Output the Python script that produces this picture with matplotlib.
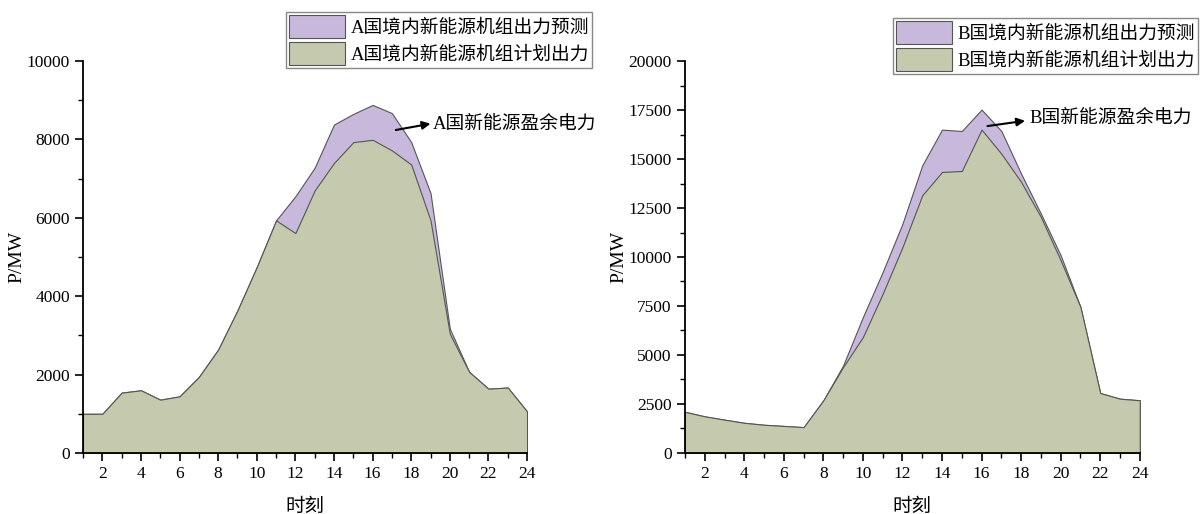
import numpy as np
import matplotlib
matplotlib.use("Agg")
import matplotlib.pyplot as plt
from matplotlib.ticker import MultipleLocator

plt.rcParams['font.family'] = ['Liberation Serif', 'Noto Sans CJK SC']
plt.rcParams['axes.unicode_minus'] = False

hours = list(range(1, 25))

# A country (MW)
a_plan = [1000, 1000, 1540, 1600, 1360, 1445, 1940, 2640, 3640, 4745, 5935, 5610,
          6700, 7400, 7930, 7990, 7720, 7360, 5935, 3040, 2070, 1640, 1670, 1060]
a_forecast = [1000, 1000, 1540, 1600, 1360, 1445, 1940, 2640, 3640, 4745, 5935, 6550,
              7280, 8380, 8650, 8880, 8670, 7930, 6630, 3170, 2070, 1640, 1670, 1060]

# B country (MW)
b_plan = [2100, 1870, 1700, 1540, 1440, 1380, 1320, 2690, 4390, 5920, 8130, 10510,
          13150, 14340, 14390, 16500, 15270, 13830, 12040, 9830, 7450, 3060, 2770, 2690]
b_forecast = [2100, 1870, 1700, 1540, 1440, 1380, 1320, 2690, 4470, 6940, 9240, 11700,
              14680, 16500, 16430, 17520, 16430, 14250, 12210, 10090, 7450, 3060, 2770, 2690]

PURPLE = '#C8B9DC'
GREEN = '#C5C9AD'
EDGE = '#555555'

fig = plt.figure(figsize=(12, 5.14), dpi=100)


def draw_panel(ax, plan, forecast, name, ymax, ymajor, arrow_from, arrow_to, text_xy, legend_anchor):
    ax.fill_between(hours, 0, forecast, color=PURPLE, edgecolor=EDGE, linewidth=0.8,
                    label=f'{name}国境内新能源机组出力预测')
    ax.fill_between(hours, 0, plan, color=GREEN, edgecolor=EDGE, linewidth=0.8,
                    label=f'{name}国境内新能源机组计划出力')
    ax.set_xlim(1, 24)
    ax.set_ylim(0, ymax)
    ax.xaxis.set_major_locator(MultipleLocator(2))
    ax.xaxis.set_minor_locator(MultipleLocator(1))
    ax.yaxis.set_major_locator(MultipleLocator(ymajor))
    ax.yaxis.set_minor_locator(MultipleLocator(ymajor / 2))
    for s in ['top', 'right']:
        ax.spines[s].set_visible(False)
    for s in ['left', 'bottom']:
        ax.spines[s].set_linewidth(1.3)
    ax.tick_params(which='major', direction='out', length=6, width=1.2, labelsize=12.5)
    ax.tick_params(which='minor', direction='out', length=3.5, width=1.0)
    ax.set_xlabel('时刻', fontsize=14, labelpad=12)
    ax.set_ylabel('P/MW', fontsize=14, labelpad=1)

    # surplus arrow + label
    ax.annotate('', xy=arrow_to, xytext=arrow_from,
                arrowprops=dict(arrowstyle='-|>', color='black', lw=1.5,
                                mutation_scale=12, shrinkA=0, shrinkB=0))
    ax.text(text_xy[0], text_xy[1], f'{name}国新能源盈余电力', fontsize=13.5,
            va='center', ha='left')

    ax.legend(loc='upper right', bbox_to_anchor=legend_anchor,
              bbox_transform=fig.transFigure, fontsize=13.5, frameon=True,
              fancybox=False, edgecolor='#888888', framealpha=1,
              handlelength=3.0, handleheight=1.5, handletextpad=0.3,
              borderpad=0.15, labelspacing=0.25, borderaxespad=0)


ax1 = fig.add_axes([0.0692, 0.1187, 0.37, 0.7626])
draw_panel(ax1, a_plan, a_forecast, 'A', 10000, 2000,
           (17.2, 8240), (19.0, 8400), (19.1, 8400), (592 / 1200, 1 - 12 / 514))

ax2 = fig.add_axes([0.5708, 0.1187, 0.379, 0.7626])
draw_panel(ax2, b_plan, b_forecast, 'B', 20000, 2500,
           (16.3, 16680), (18.2, 16950), (18.4, 17100), (1198 / 1200, 1 - 18 / 514))

fig.savefig('out.png', dpi=100)
